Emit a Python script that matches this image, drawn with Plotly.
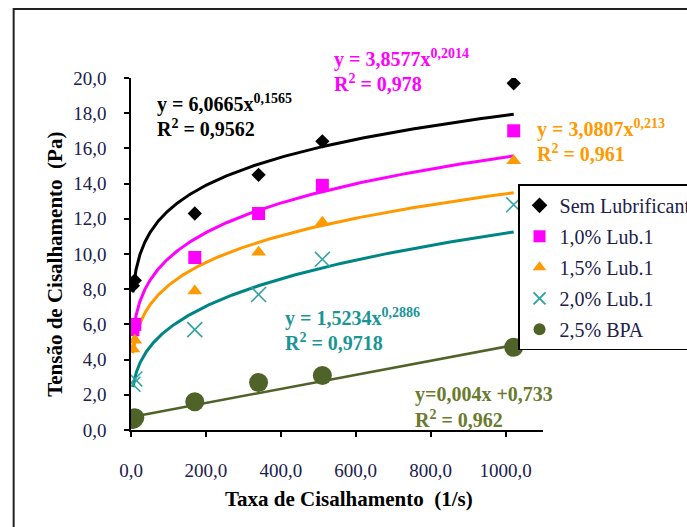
import numpy as np
import plotly.graph_objects as go

# Shear rate (1/s) of the rotational viscometer readings
shear_rate = [5.11, 10.22, 170.3, 340.6, 510.9, 1021.8]

series_names = ["Sem Lubrificante", "1,0% Lub.1", "1,5% Lub.1", "2,0% Lub.1", "2,5% BPA"]

# Shear stress (Pa) for each fluid
stress_sem_lub = [8.2, 8.5, 12.3, 14.5, 16.4, 19.7]
stress_lub_10 = [5.7, 6.0, 9.8, 12.3, 13.9, 17.0]
stress_lub_15 = [4.6, 5.1, 7.9, 10.1, 11.8, 15.3]
stress_lub_20 = [2.6, 2.9, 5.7, 7.7, 9.7, 12.8]
stress_bpa_25 = [0.6, 0.7, 1.6, 2.7, 3.1, 4.7]

# Power-law trendlines  y = a * x^b  (first four fluids)
power_a = [6.0665, 3.8577, 3.0807, 1.5234]
power_b = [0.1565, 0.2014, 0.2130, 0.2886]
power_a_txt = ["6,0665", "3,8577", "3,0807", "1,5234"]
power_b_txt = ["0,1565", "0,2014", "0,213", "0,2886"]

# Linear trendline for the BPA fluid  y = m*x + c
lin_m, lin_c = 0.004, 0.733
lin_txt = "y=0,004x +0,733"

r2_txt = ["0,9562", "0,978", "0,961", "0,9718", "0,962"]

x_ticks = [0, 200, 400, 600, 800, 1000]
y_ticks = [0, 2, 4, 6, 8, 10, 12, 14, 16, 18, 20]

# ---- styling -------------------------------------------------------------
W, H = 687, 527
L, R, T, B = 130.5, 144, 77.5, 97
PW, PH = W - L - R, H - T - B

SERIF = "Liberation Serif, Times New Roman, serif"
NAVY = "#20204a"

marker_colors = ["#000000", "#ff00ff", "#ff9900", "#31a3a3", "#4f6228"]
line_colors = ["#000000", "#ff00ff", "#ff9900", "#008585", "#4f6228"]
text_colors = ["#000000", "#ff00ff", "#ff9900", "#1a9595", "#6a7a2e"]
symbols = ["diamond", "square", "triangle-up", "x-thin-open", "circle"]
sizes = [11, 13, 13, 15, 19]


def px(x):
    return (x - L) / PW


def py(y):
    return (H - B - y) / PH


fig = go.Figure()

all_stress = [stress_sem_lub, stress_lub_10, stress_lub_15, stress_lub_20, stress_bpa_25]

# trendlines
xs = np.geomspace(min(shear_rate), max(shear_rate), 300)
for i in range(4):
    fig.add_trace(go.Scatter(
        x=xs, y=power_a[i] * xs ** power_b[i], mode="lines",
        line=dict(color=line_colors[i], width=3),
        showlegend=False, hoverinfo="skip"))
xl = np.array([min(shear_rate), max(shear_rate)])
fig.add_trace(go.Scatter(
    x=xl, y=lin_m * xl + lin_c, mode="lines",
    line=dict(color=line_colors[4], width=2.5),
    showlegend=False, hoverinfo="skip"))

# measured points
for i, (name, ys) in enumerate(zip(series_names, all_stress)):
    mk = dict(symbol=symbols[i], size=sizes[i], color=marker_colors[i])
    if symbols[i] == "x-thin-open":
        mk["line"] = dict(color=marker_colors[i], width=1.6)
    fig.add_trace(go.Scatter(
        x=shear_rate, y=ys, mode="markers", name=name, marker=mk,
        legendgroup=f"g{i}"))

# trendline equations
eq_pos = [(155, 103, 128), (332, 58, 83), (535, 128, 153), (283, 317, 342)]
ann = []
for i in range(4):
    x0, y1, y2 = eq_pos[i]
    ann.append(dict(x=px(x0), y=py(y1),
                    text=f"<b>y = {power_a_txt[i]}x<sup>{power_b_txt[i]}</sup></b>"))
    ann.append(dict(x=px(x0), y=py(y2), text=f"<b>R<sup>2</sup> = {r2_txt[i]}</b>"))
    ann[-1]["font"] = ann[-2]["font"] = dict(family=SERIF, size=20, color=text_colors[i])
ann.append(dict(x=px(413), y=py(394), text=f"<b>{lin_txt}</b>",
                font=dict(family=SERIF, size=20, color=text_colors[4])))
ann.append(dict(x=px(413), y=py(419), text=f"<b>R<sup>2</sup> = {r2_txt[4]}</b>",
                font=dict(family=SERIF, size=20, color=text_colors[4])))
for a in ann:
    a.update(xref="paper", yref="paper", xanchor="left", yanchor="middle",
             showarrow=False)

# axis titles
ann.append(dict(x=px(349), y=py(499), xref="paper", yref="paper",
                text="<b>Taxa de Cisalhamento  (1/s)</b>", showarrow=False,
                font=dict(family=SERIF, size=21, color="#000000"),
                xanchor="center", yanchor="middle"))
ann.append(dict(x=px(55), y=py(264), xref="paper", yref="paper",
                text="<b>Tensão de Cisalhamento  (Pa)</b>", showarrow=False,
                textangle=-90, font=dict(family=SERIF, size=21, color="#000000"),
                xanchor="center", yanchor="middle"))

axis_common = dict(
    showline=True, linecolor="#000000", linewidth=1.5,
    ticks="outside", ticklen=5, tickwidth=1.5, tickcolor="#000000",
    showgrid=False, zeroline=False, tickformat=".1f",
    tickfont=dict(family=SERIF, size=19, color=NAVY),
)

fig.update_layout(
    width=W, height=H,
    margin=dict(l=L, r=R, t=T, b=B, autoexpand=False),
    paper_bgcolor="#ffffff", plot_bgcolor="#ffffff",
    separators=",.",
    xaxis=dict(range=[0, 1100], tickvals=x_ticks, ticklabelstandoff=17, **axis_common),
    yaxis=dict(range=[0, 20], tickvals=y_ticks, ticklabelstandoff=14, **axis_common),
    annotations=ann,
    showlegend=True,
    legend=dict(
        x=px(518), y=py(184), xanchor="left", yanchor="top",
        bgcolor="#ffffff", bordercolor="#000000", borderwidth=1.5,
        font=dict(family=SERIF, size=20, color=NAVY),
        itemsizing="constant", traceorder="grouped", tracegroupgap=2,
    ),
    shapes=[dict(type="rect", xref="paper", yref="paper",
                 x0=px(13), x1=px(720), y0=py(560), y1=py(8.5),
                 line=dict(color="#222222", width=2), fillcolor="rgba(0,0,0,0)",
                 layer="below")],
)

fig.write_html("out.html")
